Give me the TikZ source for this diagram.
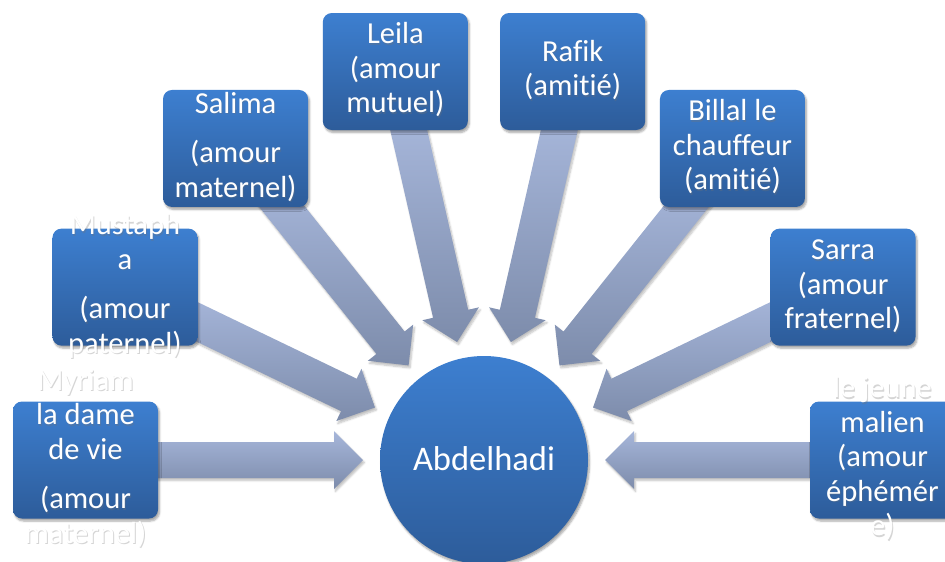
\documentclass[tikz,border=0pt]{standalone}
\usepackage{fontspec}
\setmainfont{Carlito}[Ligatures=NoCommon]
\usetikzlibrary{calc,shadows.blur}
\definecolor{boxtop}{HTML}{3D7FD0}
\definecolor{boxbot}{HTML}{2D5C9A}
\definecolor{arrtop}{HTML}{A6B6DA}
\definecolor{arrbot}{HTML}{7D8CAB}
\tikzset{
  satbox/.style={rounded corners=9pt, minimum width=145pt, minimum height=117pt,
    inner sep=0pt, top color=boxtop, bottom color=boxbot,
    blur shadow={shadow xshift=1.5pt, shadow yshift=-2.5pt, shadow blur steps=6, shadow opacity=35}},
  hub/.style={circle, minimum size=208pt, inner sep=0pt, top color=boxtop, bottom color=boxbot,
    blur shadow={shadow xshift=1.5pt, shadow yshift=-2.5pt, shadow blur steps=6, shadow opacity=35}},
  lbl/.style={text=white, align=center, inner sep=0pt, font=\fontsize{30.5}{34.5}\selectfont},
  lblsh/.style={lbl, text=black!55, opacity=.3},
  blk/.style={top color=arrtop, bottom color=arrbot,
    blur shadow={shadow xshift=1.5pt, shadow yshift=-2.5pt, shadow blur steps=6, shadow opacity=25}}
}
\newcommand\blkarrow[1]{%
  \coordinate (#1-t) at ($(c0)!121pt!(#1.center)$);
  \coordinate (#1-h) at ($(c0)!150pt!(#1.center)$);
  \coordinate (#1-e) at ($(c0)!345pt!(#1.center)$);
  \path[blk] ($(#1-e)!18pt!90:(c0)$) -- ($(#1-h)!18pt!90:(c0)$) -- ($(#1-h)!29pt!90:(c0)$)
    -- (#1-t) -- ($(#1-h)!29pt!-90:(c0)$) -- ($(#1-h)!18pt!-90:(c0)$)
    -- ($(#1-e)!18pt!-90:(c0)$) -- cycle;}
\newcommand\boxlabel[3]{%
  \node[lblsh] (#1-s) at ($(#2)+(1pt,-1.5pt)$) {\strut #3\strut};
  \node[lbl] (#1-l) at (#2) {\strut #3\strut};}
\begin{document}
\begin{tikzpicture}[x=1pt,y=-1pt]
\useasboundingbox (0,0) rectangle (945,562);
\coordinate (c0) at (484,460);
% satellite positions
\coordinate (p0) at ($(c0)+(180:398.5pt)$);
\coordinate (p1) at ($(c0)+(154.2857:398.5pt)$);
\coordinate (p2) at ($(c0)+(128.5714:398.5pt)$);
\coordinate (p3) at ($(c0)+(102.8571:398.5pt)$);
\coordinate (p4) at ($(c0)+(77.1429:398.5pt)$);
\coordinate (p5) at ($(c0)+(51.4286:398.5pt)$);
\coordinate (p6) at ($(c0)+(25.7143:398.5pt)$);
\coordinate (p7) at ($(c0)+(0:398.5pt)$);
% invisible anchors for arrow computation
\foreach \i in {0,...,7} {\node[minimum size=0pt, inner sep=0pt] (s\i) at (p\i) {};}
% arrows
\blkarrow{s0}\blkarrow{s1}\blkarrow{s2}\blkarrow{s3}
\blkarrow{s4}\blkarrow{s5}\blkarrow{s6}\blkarrow{s7}
% hub
\node[hub] (hub) at (c0) {};
\node[text=white, inner sep=0pt, anchor=base, font=\fontsize{34.5}{40}\selectfont] (hubl) at (484,470) {Abdelhadi};
% boxes
\node[satbox] (myr) at (p0) {};
\node[satbox] (mus) at (p1) {};
\node[satbox] (sal) at (p2) {};
\node[satbox] (lei) at (p3) {};
\node[satbox] (raf) at (p4) {};
\node[satbox] (bil) at (p5) {};
\node[satbox] (sar) at (p6) {};
\node[satbox] (mal) at (p7) {};
% labels
\boxlabel{myr}{myr.center}{Myriam\\la dame\\de vie\\[15pt](amour\\maternel)}
\boxlabel{mus}{mus.center}{Mustaph\\a\\[15pt](amour\\paternel)}
\boxlabel{sal}{sal.center}{Salima\\[15pt](amour\\maternel)}
\boxlabel{lei}{lei.center}{Leila\\(amour\\mutuel)}
\boxlabel{raf}{raf.center}{Rafik\\(amitié)}
\boxlabel{bil}{bil.center}{Billal le\\chauffeur\\(amitié)}
\boxlabel{sar}{sar.center}{Sarra\\(amour\\fraternel)}
\boxlabel{mal}{mal.center}{le jeune\\malien\\(amour\\éphémér\\e)}
\end{tikzpicture}
\end{document}
